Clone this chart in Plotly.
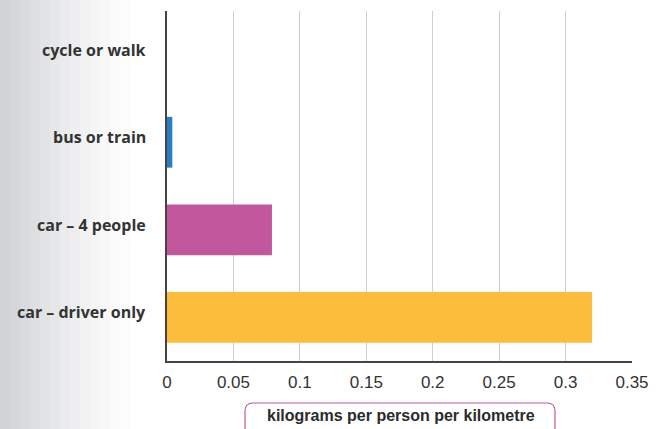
import plotly.graph_objects as go

categories = ["cycle or walk", "bus or train", "car \u2013 4 people", "car \u2013 driver only"]
values = [0.0, 0.004, 0.079, 0.32]
colors = ["#2a7dc0", "#2a7dc0", "#c2579e", "#fbbd3b"]
x_ticks = [0, 0.05, 0.1, 0.15, 0.2, 0.25, 0.3, 0.35]
x_tick_labels = ["0", "0.05", "0.1", "0.15", "0.2", "0.25", "0.3", "0.35"]
axis_title = "kilograms per person per kilometre"

L, R, T, B = 167, 632, 11, 361
W, H = R - L, B - T

def px(xp):
    return (xp - L) / W

def py(yp):
    return (B - yp) / H

fig = go.Figure(go.Bar(
    y=categories, x=values, orientation="h",
    marker=dict(color=colors, line=dict(width=0)),
    width=0.58,
))

shapes = []
# page-scan grey band on the left
greys = ["#d2d3d6", "#d6d7da", "#dadbde", "#dedfe2", "#e2e3e5", "#e6e7e9", "#eaebec",
         "#eeeef0", "#f2f2f3", "#f5f5f6", "#f8f8f9", "#fbfbfb", "#fdfdfd"]
for i, g in enumerate(greys):
    shapes.append(dict(type="rect", xref="paper", yref="paper",
                       x0=px(i * 10), x1=px((i + 1) * 10),
                       y0=py(429), y1=py(0), fillcolor=g, line=dict(width=0), layer="below"))
# rounded box for axis title
bx0, bx1, by0, by1, r = 245, 555, 403, 429, 8
path = (f"M {px(bx0)},{py(by1)} L {px(bx0)},{py(by0+r)} "
        f"Q {px(bx0)},{py(by0)} {px(bx0+r)},{py(by0)} "
        f"L {px(bx1-r)},{py(by0)} Q {px(bx1)},{py(by0)} {px(bx1)},{py(by0+r)} "
        f"L {px(bx1)},{py(by1)}")
shapes.append(dict(type="path", xref="paper", yref="paper", path=path,
                   line=dict(color="#c2579e", width=1.2)))

annotations = [dict(text=f"<b>{axis_title}</b>", xref="paper", yref="paper",
                    x=px(401), y=py(416), yanchor="middle", showarrow=False,
                    font=dict(family="Liberation Sans, Arial", size=16, color="#2b2b2b"))]
for c in categories:
    annotations.append(dict(text=c, xref="paper", yref="y", x=px(148), y=c,
                            xanchor="right", yanchor="middle", yshift=5, showarrow=False,
                            font=dict(family="Open Sans", size=16, color="#333333", weight="bold")))

fig.update_layout(
    width=657, height=429,
    margin=dict(l=L, r=657 - R, t=T, b=429 - B, autoexpand=False),
    paper_bgcolor="#ffffff", plot_bgcolor="#ffffff",
    showlegend=False,
    shapes=shapes,
    annotations=annotations,
    xaxis=dict(range=[0, 0.35], tickvals=x_ticks, ticktext=x_tick_labels,
               showgrid=True, gridcolor="#cfcfcf", gridwidth=1,
               showline=True, linecolor="#444444", linewidth=1.5,
               zeroline=False, ticks="", ticklabelstandoff=5, automargin=False,
               tickfont=dict(family="Liberation Sans, Arial", size=17, color="#333333")),
    yaxis=dict(autorange=False, range=[3.5, -0.5],
               showline=True, linecolor="#444444", linewidth=1.5,
               showgrid=False, ticks="", showticklabels=False, automargin=False),
    bargap=0.42,
)

fig.write_html("out.html", config={"displayModeBar": False},
               post_script="document.body.style.margin='0';document.body.style.overflow='hidden';")
